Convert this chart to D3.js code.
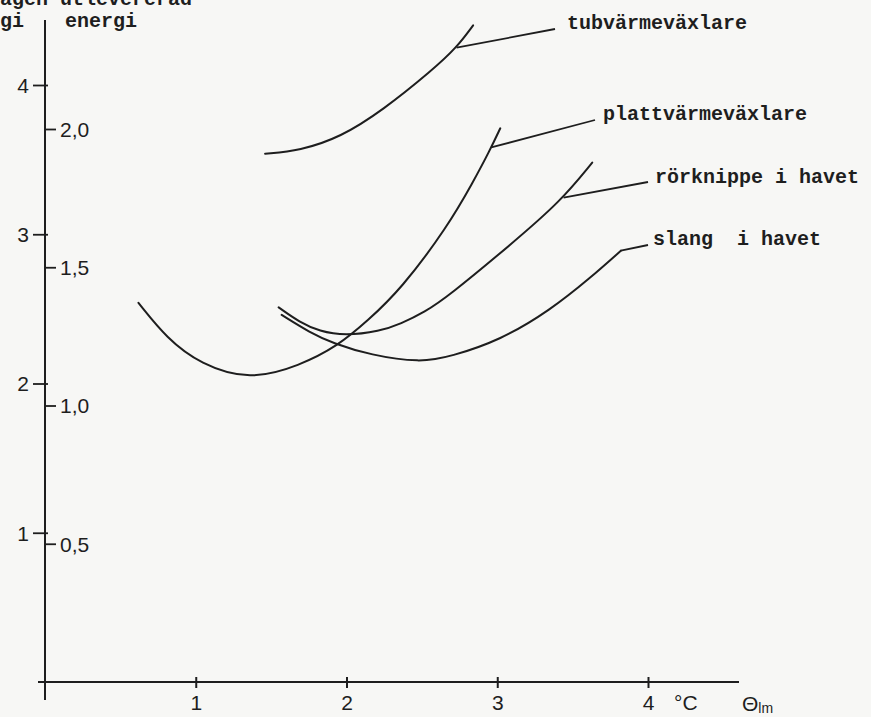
<!DOCTYPE html>
<html>
<head>
<meta charset="utf-8">
<script src="https://cdn.jsdelivr.net/npm/d3@7"></script>
<style>
  html, body { margin: 0; padding: 0; background: #f7f7f5; }
  svg { display: block; }
  .type { font-family: "Liberation Mono", "DejaVu Sans Mono", monospace; font-weight: bold; font-size: 20px; fill: #1e1e1e; }
  .hand { font-family: "Liberation Sans", "DejaVu Sans", sans-serif; font-size: 21px; fill: #1e1e1e; }
</style>
</head>
<body>
<svg id="chart" width="871" height="717"></svg>
<script>
// Θlm in °C along the bottom axis
const xTicks = [1, 2, 3, 4];
// left-hand scale and right-hand (energi) scale
const leftTicks = [1, 2, 3, 4];
const rightTicks = [0.5, 1.0, 1.5, 2.0];

const seriesNames = ["tubvärmeväxlare", "plattvärmeväxlare", "rörknippe i havet", "slang  i havet"];

// curve points, x in °C, y on the left-hand scale
const tubX   = [1.46, 1.69, 1.96, 2.24, 2.57, 2.73, 2.84];
const tubY   = [3.54, 3.56, 3.65, 3.83, 4.10, 4.25, 4.40];

const plattX = [0.62, 0.81, 1.03, 1.36, 1.69, 1.94, 2.14, 2.36, 2.67, 2.84, 2.95, 3.02];
const plattY = [2.54, 2.30, 2.13, 2.02, 2.12, 2.25, 2.42, 2.63, 3.05, 3.35, 3.56, 3.71];

const rorX   = [1.55, 1.69, 1.82, 1.99, 2.22, 2.36, 2.52, 2.67, 3.10, 3.42, 3.63];
const rorY   = [2.51, 2.41, 2.35, 2.32, 2.35, 2.40, 2.48, 2.58, 2.94, 3.22, 3.48];

const slangX = [1.57, 1.76, 1.91, 2.16, 2.49, 2.69, 3.02, 3.35, 3.62, 3.82];
const slangY = [2.46, 2.34, 2.27, 2.19, 2.14, 2.18, 2.29, 2.49, 2.71, 2.89];

// where each leader line leaves its curve (°C)
const leaderAtX = [2.73, 2.96, 3.44, 3.82];

const seriesX = [tubX, plattX, rorX, slangX];
const seriesY = [tubY, plattY, rorY, slangY];

// ---- layout ----
const W = 871, H = 717;
const axisX = 45, axisY = 682;
const x  = d3.scaleLinear().domain([0, 4]).range([axisX, 648]);
const yL = d3.scaleLinear().domain([0, 4]).range([axisY, 85]);
const yR = d3.scaleLinear().domain([0, 2]).range([axisY, 129]);

// label placement for the leader lines: end of leader and text start
const labelLayout = [
  { lx: 555, ly: 29,  tx: 567, ty: 29 },
  { lx: 595, ly: 120, tx: 603, ty: 120 },
  { lx: 648, ly: 182, tx: 655, ty: 183 },
  { lx: 648, ly: 245, tx: 653, ty: 245 }
];

const ink = "#1e1e1e";
const svg = d3.select("#chart");
svg.append("rect").attr("width", W).attr("height", H).attr("fill", "#f7f7f5");

// axis lines
svg.append("line").attr("x1", axisX).attr("x2", axisX).attr("y1", 20).attr("y2", 700)
  .attr("stroke", ink).attr("stroke-width", 2);
svg.append("line").attr("x1", 38).attr("x2", 739).attr("y1", axisY).attr("y2", axisY)
  .attr("stroke", ink).attr("stroke-width", 2);

// left scale
const gL = svg.append("g").attr("transform", `translate(${axisX},0)`)
  .call(d3.axisLeft(yL).tickValues(leftTicks).tickFormat(d3.format("d")).tickSize(12).tickPadding(4));
gL.select(".domain").remove();
gL.selectAll(".tick line").attr("x1", -12).attr("x2", 3).attr("stroke", ink).attr("stroke-width", 1.8);
gL.selectAll(".tick text").attr("class", "hand").attr("x", -16).attr("dy", "0.35em")
  .attr("font-size", null).attr("font-family", null).attr("fill", null);

// right scale (energi)
const commaLocale = d3.formatLocale({ decimal: ",", thousands: " ", grouping: [3], currency: ["", ""] });
const gR = svg.append("g").attr("transform", `translate(${axisX},0)`)
  .call(d3.axisRight(yR).tickValues(rightTicks).tickFormat(commaLocale.format(".1f")).tickSize(10).tickPadding(5));
gR.select(".domain").remove();
gR.selectAll(".tick line").attr("x1", 1).attr("x2", 11).attr("stroke", ink).attr("stroke-width", 1.8);
gR.selectAll(".tick text").attr("class", "hand").attr("x", 15).attr("dy", "0.35em")
  .attr("font-size", null).attr("font-family", null).attr("fill", null);

// bottom scale
const gX = svg.append("g").attr("transform", `translate(0,${axisY})`)
  .call(d3.axisBottom(x).tickValues(xTicks).tickFormat(d3.format("d")).tickSize(6).tickPadding(10));
gX.select(".domain").remove();
gX.selectAll(".tick line").attr("y1", -5).attr("y2", 6).attr("stroke", ink).attr("stroke-width", 2);
gX.selectAll(".tick text").attr("class", "hand").attr("y", 28).attr("dy", null)
  .attr("font-size", null).attr("font-family", null).attr("fill", null);

svg.append("text").attr("class", "hand").attr("x", 674).attr("y", 710).text("°C");
const th = svg.append("text").attr("class", "hand").attr("x", 742).attr("y", 711).attr("font-size", 19);
th.append("tspan").text("Θ");
th.append("tspan").attr("dy", 2).attr("font-size", 14).text("lm");

// heading text
svg.append("text").attr("class", "type").attr("x", 0).attr("y", 5).text("agen utlevererad");
svg.append("text").attr("class", "type").attr("x", 0).attr("y", 27).text("gi");
svg.append("text").attr("class", "type").attr("x", 65).attr("y", 27).text("energi");

// curves, smoothed as B-splines through the read points
const line = d3.line()
  .x(d => x(d[0]))
  .y(d => yL(d[1]))
  .curve(d3.curveBasis);

seriesNames.forEach((name, i) => {
  const pts = seriesX[i].map((v, k) => [v, seriesY[i][k]]);
  svg.append("path").datum(pts)
    .attr("d", line)
    .attr("fill", "none")
    .attr("stroke", ink)
    .attr("stroke-width", 2)
    .attr("stroke-linecap", "round");

  // leader from the curve to its label
  const ax = leaderAtX[i];
  const ay = d3.scaleLinear().domain(seriesX[i]).range(seriesY[i])(ax);
  const L = labelLayout[i];
  svg.append("line")
    .attr("x1", x(ax)).attr("y1", yL(ay))
    .attr("x2", L.lx).attr("y2", L.ly)
    .attr("stroke", ink).attr("stroke-width", 1.8);
  svg.append("text").attr("class", "type")
    .attr("x", L.tx).attr("y", L.ty)
    .attr("xml:space", "preserve")
    .style("white-space", "pre")
    .text(name);
});
</script>
</body>
</html>
